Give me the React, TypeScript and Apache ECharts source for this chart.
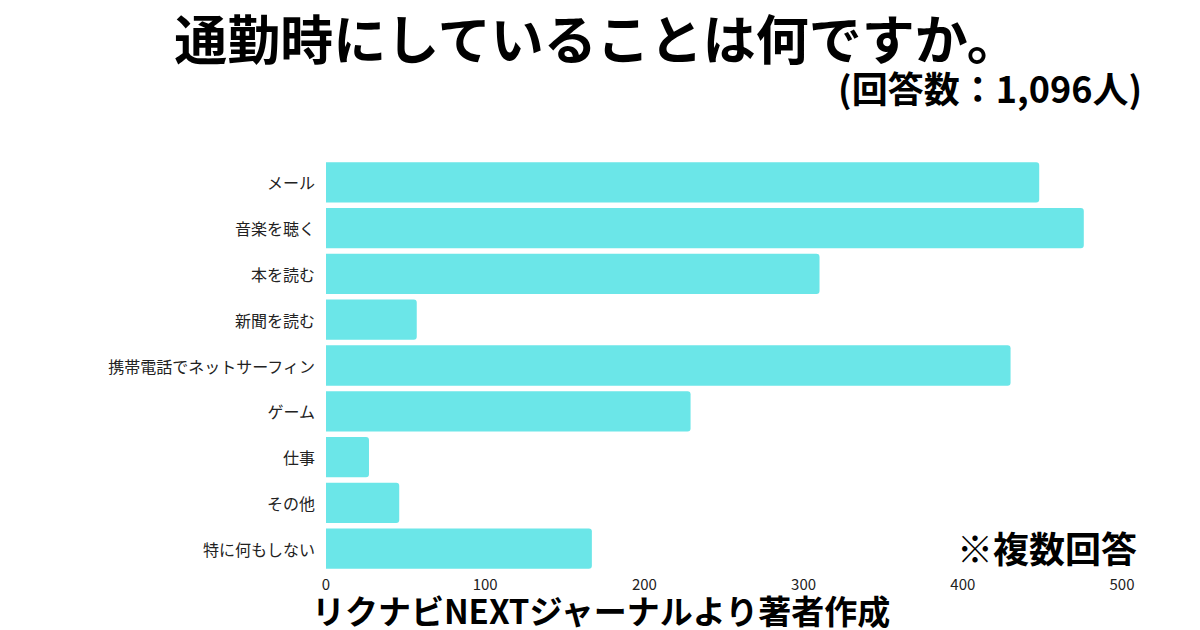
import React, { useEffect, useRef } from "react";
import * as echarts from "echarts";

const categories = [
  "メール",
  "音楽を聴く",
  "本を読む",
  "新聞を読む",
  "携帯電話でネットサーフィン",
  "ゲーム",
  "仕事",
  "その他",
  "特に何もしない",
];
const values = [448, 476, 310, 57, 430, 229, 27, 46, 167];
const xTicks = [0, 100, 200, 300, 400, 500];

const title = "通勤時にしていることは何ですか。";
const subtitle = "(回答数：1,096人)";
const note = "※複数回答";
const source = "リクナビNEXTジャーナルより著者作成";

const FONT = "'Noto Sans CJK JP', 'Noto Sans', sans-serif";

export default function App() {
  const ref = useRef<HTMLDivElement>(null);
  useEffect(() => {
    if (!ref.current) return;
    const chart = echarts.init(ref.current, null, { renderer: "svg" });
    chart.setOption({
      animation: false,
      backgroundColor: "#ffffff",
      textStyle: { fontFamily: FONT },
      grid: { left: 326, right: 78, top: 159.5, bottom: 630 - 571.5, containLabel: false },
      xAxis: {
        type: "value",
        min: xTicks[0],
        max: xTicks[xTicks.length - 1],
        interval: 100,
        axisLine: { show: false },
        axisTick: { show: false },
        splitLine: { show: false },
        axisLabel: { color: "#222", fontSize: 15, margin: 4, fontFamily: FONT },
      },
      yAxis: {
        type: "category",
        data: categories,
        inverse: true,
        axisLine: { show: false },
        axisTick: { show: false },
        splitLine: { show: false },
        axisLabel: { color: "#222", fontSize: 16, margin: 11, fontFamily: FONT },
      },
      series: [
        {
          type: "bar",
          data: values,
          barCategoryGap: "12%",
          itemStyle: { color: "#6be6e8", borderRadius: [0, 3, 3, 0] },
        },
      ],
      graphic: [
        {
          type: "text",
          x: 597,
          y: 37,
          style: {
            text: title,
            font: `bold 53px ${FONT}`,
            fill: "#000",
            textAlign: "center",
            textVerticalAlign: "middle",
          },
        },
        {
          type: "text",
          x: 1142,
          y: 87,
          style: {
            text: subtitle,
            font: `bold 36px ${FONT}`,
            fill: "#000",
            textAlign: "right",
            textVerticalAlign: "middle",
          },
        },
        {
          type: "text",
          x: 1137,
          y: 547,
          style: {
            text: note,
            font: `bold 36px ${FONT}`,
            fill: "#000",
            textAlign: "right",
            textVerticalAlign: "middle",
          },
        },
        {
          type: "text",
          x: 601,
          y: 610,
          style: {
            text: source,
            font: `bold 33px ${FONT}`,
            fill: "#000",
            textAlign: "center",
            textVerticalAlign: "middle",
          },
        },
      ],
    });
    return () => chart.dispose();
  }, []);
  return (
    <div
      ref={ref}
      style={{ width: 1200, height: 630, position: "absolute", left: 0, top: 0 }}
    />
  );
}
